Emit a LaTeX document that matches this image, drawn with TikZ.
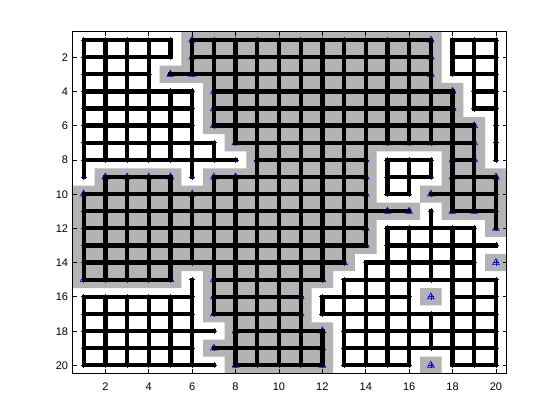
\documentclass[tikz,border=0pt]{standalone}
\usepackage{fontspec}
\setmainfont{Liberation Sans}
\definecolor{cellgray}{RGB}{179,179,179}
\tikzset{
  edgeline/.style={draw=black, line width=4.3pt, line cap=rect},
  plusmark/.style={draw=blue, line width=0.6pt},
  trimark/.style={draw=blue, line width=0.6pt, line join=miter},
  axisline/.style={draw=black, line width=0.7pt},
  ticklabel/.style={font=\fontsize{11}{12}\selectfont, inner sep=0pt}
}
\begin{document}
\begin{tikzpicture}[x=1pt,y=-1pt]
\useasboundingbox (0,0) rectangle (560,420);
\fill[white] (0,0) rectangle (560,420);
\begin{scope}[shift={(61.95,22.94)}, x=21.7pt, y=-17.115pt]
  % grid node coordinates
  \foreach \i in {1,...,20}{\foreach \j in {1,...,20}{\coordinate (n\i-\j) at (\i,\j);}}
  % gray cells
  \fill[cellgray] \foreach \y/\a/\b in {1/6/17,2/6/17,3/5/17,4/7/18,5/7/18,6/7/19,7/8/19,
     8/9/14,8/18/19,9/2/5,9/7/14,9/18/20,10/1/14,10/17/20,11/1/16,11/18/20,12/1/14,12/20/20,
     13/1/14,14/1/13,14/20/20,15/1/5,15/7/12,16/7/11,16/17/17,17/7/11,18/8/12,19/7/12,20/8/12,20/17/17}
     { (\a-0.5,\y-0.5) rectangle (\b+0.5,\y+0.5) };
  % plus markers at every node
  \foreach \i in {1,...,20}{\foreach \j in {1,...,20}{
     \draw[plusmark] (n\i-\j) ++(-3pt,0) -- ++(6pt,0) (n\i-\j) ++(0,-3pt) -- ++(0,6pt);}}
  % triangle markers on the gray boundary
  \foreach \i/\j in {6/1,17/1,6/2,17/2,5/3,6/3,17/3,7/4,18/4,7/5,18/5,7/6,19/6,8/7,15/7,16/7,17/7,19/7,
     9/8,14/8,18/8,19/8,2/9,3/9,4/9,5/9,7/9,8/9,14/9,18/9,20/9,1/10,6/10,14/10,17/10,15/11,16/11,
     18/11,19/11,14/12,20/12,14/13,6/14,13/14,20/14,1/15,2/15,3/15,4/15,5/15,7/15,12/15,7/16,11/16,
     17/16,7/17,11/17,8/18,12/18,7/19,12/19,8/20,12/20,17/20}
     { \draw[trimark] (n\i-\j) ++(0,4pt) -- ++(-3.4pt,-6pt) -- ++(6.8pt,0) -- cycle; }
  % horizontal edges
  \foreach \y/\a/\b in {1/1/5,1/6/17,1/18/20,2/1/5,2/6/17,2/18/20,3/1/4,3/5/17,3/18/20,
     4/1/6,4/7/18,4/19/20,5/1/6,5/7/18,5/19/20,6/1/6,6/7/19,7/1/7,7/8/19,
     8/1/8,8/9/14,8/15/17,8/18/19,9/2/5,9/7/14,9/15/17,9/18/20,10/1/14,10/15/16,10/17/20,
     11/1/16,11/18/20,12/1/14,12/15/19,13/1/14,13/15/20,14/1/13,14/14/19,
     15/1/5,15/7/12,15/13/20,16/1/6,16/7/11,16/12/16,16/18/20,17/1/6,17/7/11,17/12/20,
     18/1/7,18/8/12,18/13/20,19/1/6,19/7/12,19/13/20,20/1/7,20/8/12,20/13/16,20/18/20}
     { \draw[edgeline] (n\a-\y) -- (n\b-\y); }
  % vertical edges
  \foreach \x/\a/\b in {1/1/9,1/10/15,1/16/20,2/1/8,2/9/15,2/16/20,3/1/8,3/9/15,3/16/20,
     4/1/8,4/9/15,4/16/20,5/1/2,5/4/8,5/9/15,5/16/20,6/1/3,6/4/9,6/10/14,6/15/20,
     7/1/6,7/7/8,7/9/17,8/1/7,8/9/20,9/1/20,10/1/20,11/1/20,12/1/15,12/16/17,12/18/20,
     13/1/14,13/15/20,14/1/13,14/14/20,15/1/7,15/8/10,15/12/20,16/1/7,16/8/10,16/12/20,
     17/1/7,17/8/9,17/11/15,17/17/19,18/1/3,18/4/11,18/12/20,19/1/5,19/6/11,19/12/20,
     20/1/8,20/9/12,20/15/20}
     { \draw[edgeline] (n\x-\a) -- (n\x-\b); }
  % axes box and ticks
  \coordinate (bl) at (0.5,20.5);
  \coordinate (tr) at (20.5,0.5);
  \draw[axisline] (bl) rectangle (tr);
  \foreach \k in {2,4,...,20}{
    \draw[axisline] (\k,20.5) -- ++(0,4.3pt) (\k,0.5) -- ++(0,-4.3pt);
    \draw[axisline] (0.5,\k) -- ++(4.3pt,0) (20.5,\k) -- ++(-4.3pt,0);
    \node[ticklabel, anchor=base] (xl\k) at ([yshift=-16.9pt]\k,20.5) {\k};
    \node[ticklabel, anchor=base east] (yl\k) at ([xshift=-4.5pt,yshift=-4pt]0.5,\k) {\k};
  }
\end{scope}
\end{tikzpicture}
\end{document}
